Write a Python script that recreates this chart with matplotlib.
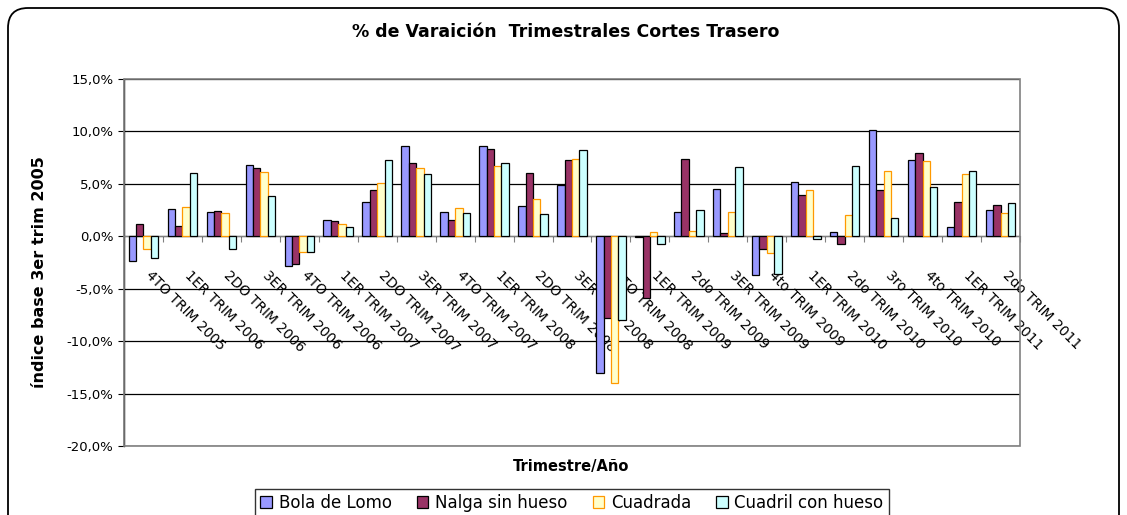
import matplotlib
matplotlib.use("Agg")
import matplotlib.pyplot as plt
import matplotlib.transforms as mtransforms
from matplotlib.patches import FancyBboxPatch, Rectangle
from matplotlib.ticker import FuncFormatter
import numpy as np

quarters = ["4TO TRIM 2005", "1ER TRIM 2006", "2DO TRIM 2006", "3ER TRIM 2006",
            "4TO TRIM 2006", "1ER TRIM 2007", "2DO TRIM 2007", "3ER TRIM 2007",
            "4TO TRIM 2007", "1ER TRIM 2008", "2DO TRIM 2008", "3ER TRIM 2008",
            "4TO TRIM 2008", "1ER TRIM 2009", "2do TRIM 2009", "3ER TRIM 2009",
            "4to TRIM 2009", "1ER TRIM 2010", "2do TRIM 2010", "3ro TRIM 2010",
            "4to TRIM 2010", "1ER TRIM 2011", "2do TRIM 2011"]

bola = [-2.4, 2.6, 2.3, 6.8, -2.8, 1.6, 3.3, 8.6, 2.3, 8.6, 2.9, 4.9,
        -13.0, -0.1, 2.3, 4.5, -3.7, 5.2, 0.4, 10.1, 7.3, 0.9, 2.5]
nalga = [1.2, 1.0, 2.4, 6.5, -2.6, 1.5, 4.4, 7.0, 1.6, 8.3, 6.0, 7.3,
         -7.8, -5.9, 7.4, 0.3, -1.2, 3.9, -0.7, 4.4, 7.9, 3.3, 3.0]
cuadrada = [-1.2, 2.8, 2.2, 6.1, -1.5, 1.2, 5.1, 6.5, 2.7, 6.7, 3.6, 7.4,
            -14.0, 0.4, 0.5, 2.3, -1.6, 4.4, 2.0, 6.2, 7.2, 5.9, 2.2]
cuadril = [-2.1, 6.0, -1.2, 3.8, -1.5, 0.9, 7.3, 5.9, 2.2, 7.0, 2.1, 8.2,
           -8.0, -0.7, 2.5, 6.6, -3.6, -0.3, 6.7, 1.7, 4.7, 6.2, 3.2]

series_names = ["Bola de Lomo", "Nalga sin hueso", "Cuadrada", "Cuadril con hueso"]

plt.rcParams["font.family"] = "DejaVu Sans"

fig = plt.figure(figsize=(11.27, 5.15), dpi=100)
ax = fig.add_axes([124 / 1127, 69 / 515, 896 / 1127, 367 / 515])

x = np.arange(len(quarters))
w = 0.19
styles = [("#9999FF", "black"), ("#993366", "black"),
          ("#FFFFCC", "#FF9900"), ("#CCFFFF", "black")]
handles = []
for i, (vals, (fc, ec)) in enumerate(zip([bola, nalga, cuadrada, cuadril], styles)):
    b = ax.bar(x + (i - 1.5) * w, vals, w, color=fc, edgecolor=ec, linewidth=0.9, zorder=3)
    handles.append(b)

ax.set_xlim(-0.5, len(quarters) - 0.5)
ax.set_ylim(-20, 15)
ax.set_yticks(np.arange(-20, 16, 5))
ax.yaxis.set_major_formatter(FuncFormatter(lambda v, p: f"{v:.1f}%".replace(".", ",")))
ax.tick_params(axis="y", length=4, labelsize=9.5, colors="black")
ax.yaxis.grid(True, color="black", linewidth=0.9)
ax.set_axisbelow(True)

# category axis crossing at zero
ax.spines["bottom"].set_position(("data", 0))
ax.spines["bottom"].set_color("#808080")
ax.spines["top"].set_visible(False)
ax.spines["right"].set_visible(False)
ax.spines["left"].set_linewidth(1.0)
ax.add_patch(Rectangle((0, 0), 1, 1, transform=ax.transAxes, fill=False,
                       edgecolor="#808080", linewidth=1.2, zorder=5, clip_on=False))

ax.set_xticks(np.arange(-0.5, len(quarters), 1))
ax.set_xticklabels([])
ax.tick_params(axis="x", which="major", length=4, color="#808080")
ax.set_xticks(x, quarters, minor=True)
ax.tick_params(axis="x", which="minor", length=0, pad=23, labelsize=10)
offset = mtransforms.ScaledTranslation(0.09, 0, fig.dpi_scale_trans)
for lab in ax.get_xticklabels(minor=True):
    lab.set_rotation(-45)
    lab.set_ha("left")
    lab.set_va("top")
    lab.set_rotation_mode("anchor")
    lab.set_transform(lab.get_transform() + offset)

fig.text(566 / 1127, 1 - 32 / 515, "% de Varaición  Trimestrales Cortes Trasero",
         ha="center", va="center", fontsize=12.5, fontweight="bold")
fig.text(40 / 1127, 1 - 272 / 515, "índice base 3er trim 2005", rotation=90,
         ha="center", va="center", fontsize=11.5, fontweight="bold")
fig.text(571 / 1127, 1 - 467 / 515, "Trimestre/Año", ha="center", va="center",
         fontsize=10.5, fontweight="bold")

leg = fig.legend(handles, series_names, loc="upper center",
                 bbox_to_anchor=(572 / 1127, 1 - 489 / 515), ncol=4,
                 fancybox=False, edgecolor="black", fontsize=12,
                 handlelength=0.7, handleheight=0.7, handletextpad=0.4,
                 columnspacing=1.5, borderpad=0.3, borderaxespad=0)
leg.get_frame().set_linewidth(1.0)

frame = FancyBboxPatch((0.08, -0.3), 11.11, 5.07 + 0.3,
                       boxstyle="round,pad=0,rounding_size=0.2",
                       transform=fig.dpi_scale_trans, fill=False,
                       edgecolor="black", linewidth=1.3)
fig.patches.append(frame)

fig.savefig("out.png", dpi=100)
